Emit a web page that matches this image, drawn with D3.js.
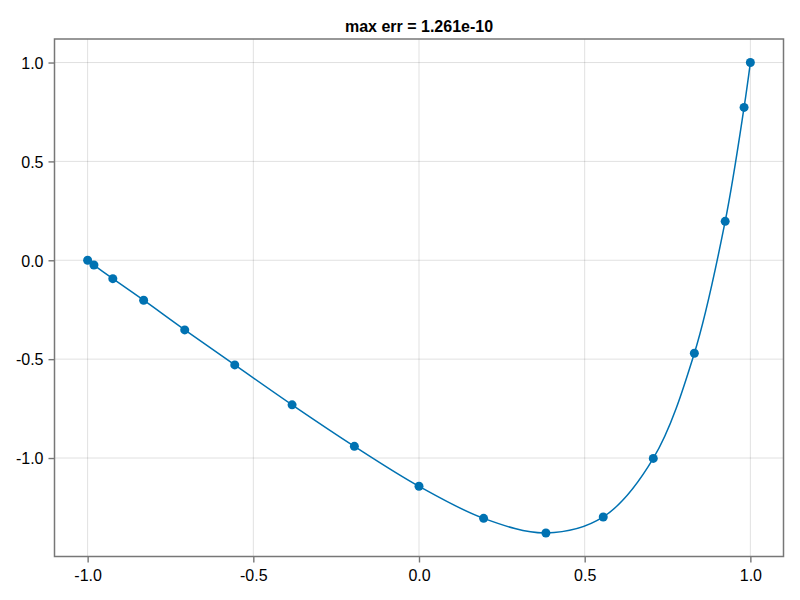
<!DOCTYPE html>
<html>
<head>
<meta charset="utf-8">
<script src="https://cdn.jsdelivr.net/npm/d3@7"></script>
<style>
  html, body { margin: 0; padding: 0; background: #fff; }
  svg { display: block; font-family: "Liberation Sans", Arial, Helvetica, sans-serif; }
</style>
</head>
<body>
<svg id="chart" width="800" height="600"></svg>
<script>
// Data (Chebyshev nodes and sampled values)
const xValues = [-1.0, -0.981, -0.924, -0.831, -0.707, -0.556, -0.383, -0.195, 0.0,
                 0.195, 0.383, 0.556, 0.707, 0.831, 0.924, 0.981, 1.0];
const yValues = [0.0, -0.024, -0.093, -0.202, -0.352, -0.529, -0.731, -0.941, -1.143,
                 -1.305, -1.379, -1.298, -1.002, -0.470, 0.197, 0.773, 1.0];
const xTicks = [-1.0, -0.5, 0.0, 0.5, 1.0];
const yTicks = [-1.0, -0.5, 0.0, 0.5, 1.0];
const titleText = "max err = 1.261e-10";

(function () {
const points = xValues.map((x, i) => ({x, y: yValues[i]}));

const svg = d3.select("#chart");
const pLeft = 54.5, pRight = 783.5, pTop = 39, pBottom = 556.5;
const blue = "#0072b2";

const x = d3.scaleLinear().domain([-1.1, 1.1]).range([pLeft, pRight]);
const y = d3.scaleLinear().domain([-1.498, 1.119]).range([pBottom, pTop]);

// grid
const grid = svg.append("g");
grid.selectAll("line.gx").data(xTicks).join("line").attr("class", "gx")
  .attr("x1", d => x(d)).attr("x2", d => x(d))
  .attr("y1", pTop).attr("y2", pBottom)
  .attr("stroke", "#000").attr("stroke-opacity", 0.12).attr("stroke-width", 1);
grid.selectAll("line.gy").data(yTicks).join("line").attr("class", "gy")
  .attr("y1", d => y(d)).attr("y2", d => y(d))
  .attr("x1", pLeft).attr("x2", pRight)
  .attr("stroke", "#000").attr("stroke-opacity", 0.12).attr("stroke-width", 1);

// axes
const fmt = d3.format(".1f");
const xAxis = d3.axisBottom(x).tickValues(xTicks).tickFormat(d => fmt(d).replace("\u2212", "-"))
  .tickSize(6).tickPadding(5);
const yAxis = d3.axisLeft(y).tickValues(yTicks).tickFormat(d => fmt(d).replace("\u2212", "-"))
  .tickSize(6).tickPadding(5);

const gx = svg.append("g").attr("transform", `translate(0,${pBottom})`).call(xAxis);
const gy = svg.append("g").attr("transform", `translate(${pLeft},0)`).call(yAxis);
[gx, gy].forEach(g => {
  g.select(".domain").remove();
  g.selectAll(".tick line").attr("stroke", "#777").attr("stroke-width", 1.4);
  g.selectAll(".tick text").attr("fill", "#000").attr("font-size", 16)
    .attr("font-family", "'Liberation Sans', Arial, sans-serif");
});
gx.selectAll(".tick text").attr("dy", "0.71em").attr("y", 13);
gy.selectAll(".tick text").attr("x", -11).attr("dy", "0.36em");

// frame
svg.append("rect")
  .attr("x", pLeft).attr("y", pTop)
  .attr("width", pRight - pLeft).attr("height", pBottom - pTop)
  .attr("fill", "none").attr("stroke", "#777").attr("stroke-width", 1.5);

// line
const line = d3.line().x(d => x(d.x)).y(d => y(d.y)).curve(d3.curveCatmullRom.alpha(0.5));
svg.append("path").datum(points)
  .attr("d", line).attr("fill", "none")
  .attr("stroke", blue).attr("stroke-width", 1.5);

// markers
svg.append("g").selectAll("circle").data(points).join("circle")
  .attr("cx", d => x(d.x)).attr("cy", d => y(d.y)).attr("r", 4.5)
  .attr("fill", blue);

// title
svg.append("text")
  .attr("x", (pLeft + pRight) / 2).attr("y", 32)
  .attr("text-anchor", "middle")
  .attr("font-size", 16).attr("font-weight", "bold")
  .text(titleText);
})();
</script>
</body>
</html>
